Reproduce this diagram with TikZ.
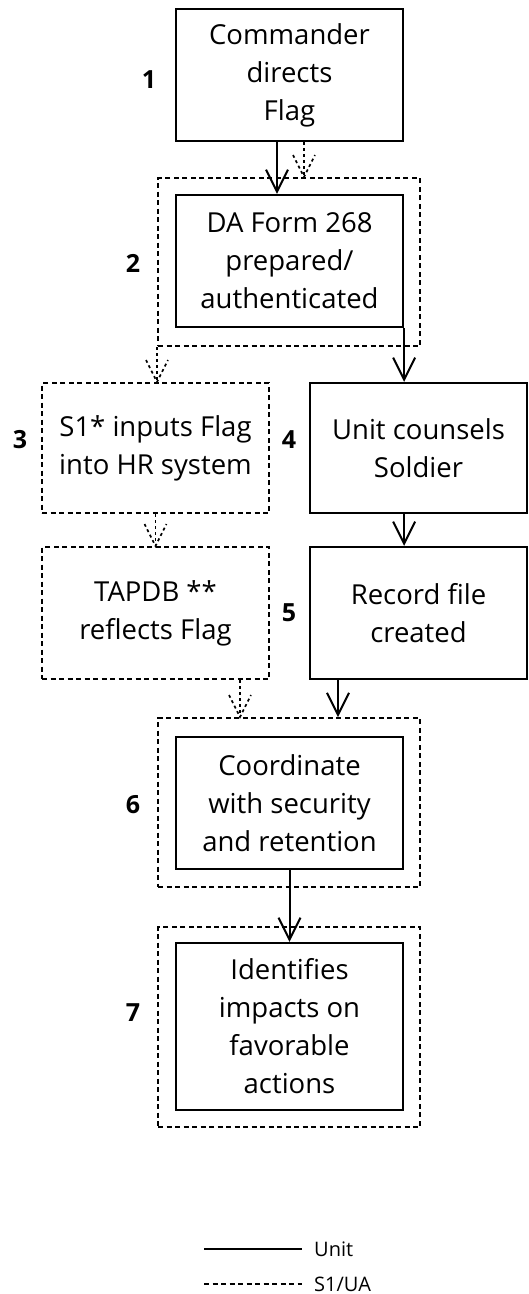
\documentclass[tikz,border=0pt]{standalone}
\usepackage{fontspec}
\setmainfont{Open Sans}
\usepackage{tikz}
\usetikzlibrary{arrows.meta}
\def\mboxwidth{227pt}
\def\mboxheight{132pt}
\def\mouterwidth{262pt}
\def\mlinewidth{2.2pt}
\tikzset{
	s1 dash/.style={line width=2pt, dash pattern=on 5pt off 3.5pt},
	unit box/.style={draw, line width=\mlinewidth, minimum width=\mboxwidth, minimum height=\mboxheight, inner sep=0pt, align=center, font=\fontsize{27.5}{38}\selectfont},
	s1 box/.style={unit box, s1 dash},
	outer box/.style={draw, s1 dash, minimum width=\mouterwidth, inner sep=0pt},
	step label/.style={font=\fontsize{25}{30}\selectfont\bfseries},
	unit arrow/.style={line width=2pt, -{Straight Barb[length=22pt, width=22pt]}},
	s1 arrow/.style={line width=1.6pt, dash pattern=on 3pt off 3pt},
	s1 barb/.style={s1 arrow, shift={#1}},
	legend text/.style={anchor=west, inner sep=0pt, font=\fontsize{20}{24}\selectfont}
}
\newcommand{\sbarb}[1]{\draw[s1 barb={(#1)}] (-11,22) -- (0,0) -- (11,22);}

\begin{document}
\begin{tikzpicture}[x=1pt, y=1pt]
		\useasboundingbox (0,0) rectangle (529,-1294);
		% outer S1/UA frames
		\node[outer box, minimum height=168pt] (o2) at (289,-262) {};
		\node[outer box, minimum height=169pt] (o6) at (289,-802.5) {};
		\node[outer box, minimum height=200pt] (o7) at (289,-1027) {};
		% steps
		\node[unit box] (n1) at (289.5,-75) {Commander\\directs\\Flag};
		\node[unit box] (n2) at (289.5,-261) {DA Form 268\\prepared/\\authenticated};
		\node[s1 box, minimum height=130pt] (n3) at (155.5,-448) {S1* inputs Flag\\into HR system};
		\node[unit box, minimum width=217pt, minimum height=130pt] (n4) at (418.5,-448) {Unit counsels\\Soldier};
		\node[s1 box] (n5a) at (155.5,-613) {TAPDB **\\reflects Flag};
		\node[unit box, minimum width=217pt] (n5b) at (418.5,-613) {Record file\\created};
		\node[unit box] (n6) at (289.5,-803) {Coordinate\\with security\\and retention};
		\node[unit box, minimum height=167pt] (n7) at (289.5,-1026.5) {Identifies\\impacts on\\favorable\\actions};
		% step numbers
		\node[step label] (l1) at (149,-80) {1};
		\node[step label] (l2) at (133,-263) {2};
		\node[step label] (l3) at (20,-440) {3};
		\node[step label] (l4) at (289,-440) {4};
		\node[step label] (l5) at (289,-613) {5};
		\node[step label] (l6) at (133,-805) {6};
		\node[step label] (l7) at (133,-1013) {7};
		% unit flow
		\draw[unit arrow] ([xshift=-12.5pt]n1.south) -- ([xshift=-12.5pt]n2.north);
		\draw[unit arrow] (n2.south east) -- (n2.south east |- n4.north);
		\draw[unit arrow] (n2.south east |- n4.south) -- (n2.south east |- n5b.north);
		\draw[unit arrow] ([xshift=-80.5pt]n5b.south) -- ([xshift=-80.5pt]n5b.south |- o6.north);
		\draw[unit arrow] (n6.south) -- (n7.north);
		% S1/UA flow
		\draw[s1 arrow] ([xshift=14.5pt]n1.south) -- ([xshift=14.5pt]n1.south |- o2.north);
		\sbarb{[xshift=14.5pt]n1.south |- o2.north}
		\draw[s1 arrow] (o2.south west) -- (o2.south west |- n3.north);
		\sbarb{o2.south west |- n3.north}
		\draw[s1 arrow] (n3.south) -- (n5a.north);
		\sbarb{n5a.north}
		\draw[s1 arrow] ([xshift=84.5pt]n5a.south) -- ([xshift=84.5pt]n5a.south |- o6.north);
		\sbarb{[xshift=84.5pt]n5a.south |- o6.north}
		% legend
		\node[legend text] (lunit) at (314,-1249) {Unit};
		\node[legend text] (ls1) at (314,-1284) {S1/UA};
		\coordinate (lu) at (204,-1249);
		\coordinate (ls) at (204,-1284);
		\draw[line width=2.2pt] (lu) -- ([xshift=-12pt]lunit.west);
		\draw[s1 dash] (ls) -- ([xshift=-12pt]ls1.west);
	\end{tikzpicture}
\end{document}
